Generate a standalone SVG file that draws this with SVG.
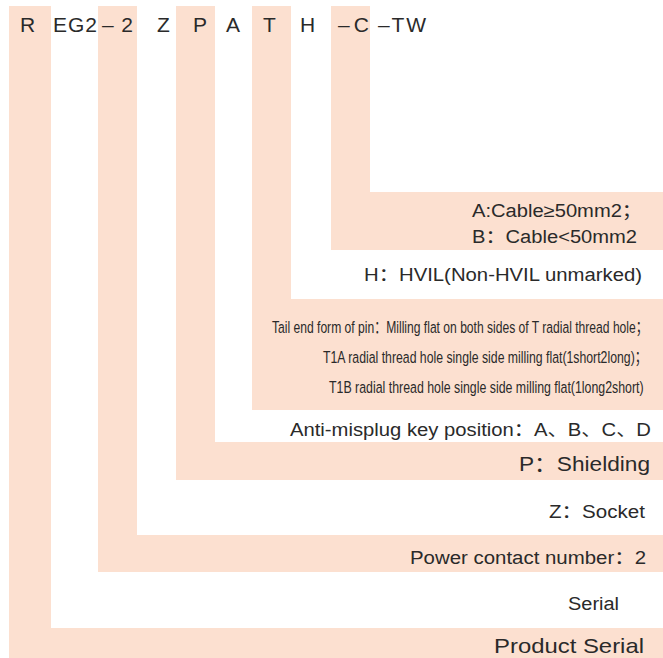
<svg xmlns="http://www.w3.org/2000/svg" width="663" height="658" viewBox="0 0 663 658">
<style>
.band{fill:#FCE0D0;stroke:none}
text{font-family:"Liberation Sans","Noto Sans CJK SC",sans-serif;fill:#2a2a2a}
.hd{font-size:21px}
.lb{font-size:18px}
.sm{font-size:17px}
.lg{font-size:21px}
</style>
<rect x="0" y="0" width="663" height="658" fill="#ffffff"/>
<g id="seg-R">
<path class="band" d="M9,6 H51 V628 H663 V658 H9 Z"/>
<text class="hd" x="20" y="32">R</text>
<text class="lb" x="568" y="610" textLength="51" lengthAdjust="spacingAndGlyphs">Serial</text>
<text class="lg" x="494" y="653" textLength="150" lengthAdjust="spacingAndGlyphs">Product Serial</text>
</g>
<g id="seg-EG2">
<text class="hd" x="53" y="32" textLength="44" lengthAdjust="spacing">EG2</text>
</g>
<g id="seg-2">
<path class="band" d="M98,6 H137 V535 H663 V572 H98 Z"/>
<text class="hd" x="102" y="32" textLength="31" lengthAdjust="spacing">–2</text>
<text class="lb" x="410" y="564" textLength="236" lengthAdjust="spacingAndGlyphs">Power contact number：2</text>
</g>
<g id="seg-Z">
<text class="hd" x="157" y="32">Z</text>
<text class="lb" x="549" y="518" textLength="96" lengthAdjust="spacingAndGlyphs">Z：Socket</text>
</g>
<g id="seg-P">
<path class="band" d="M176,6 H215 V442 H663 V480 H176 Z"/>
<text class="hd" x="193" y="32">P</text>
<text class="lg" x="519" y="471" textLength="131" lengthAdjust="spacingAndGlyphs">P：Shielding</text>
</g>
<g id="seg-A">
<text class="hd" x="226" y="32">A</text>
<text class="lb" x="290" y="436" textLength="361" lengthAdjust="spacingAndGlyphs">Anti-misplug key position：A、B、C、D</text>
</g>
<g id="seg-T">
<path class="band" d="M252,6 H291 V299 H663 V410 H252 Z"/>
<text class="hd" x="263" y="32">T</text>
<text class="sm" transform="translate(272,333) scale(0.72,1)" x="0" y="0" textLength="522" lengthAdjust="spacingAndGlyphs">Tail end form of pin：Milling flat on both sides of T radial thread hole；</text>
<text class="sm" transform="translate(323,363) scale(0.72,1)" x="0" y="0" textLength="450" lengthAdjust="spacingAndGlyphs">T1A radial thread hole single side milling flat(1short2long)；</text>
<text class="sm" transform="translate(329,393) scale(0.72,1)" x="0" y="0" textLength="437" lengthAdjust="spacingAndGlyphs">T1B radial thread hole single side milling flat(1long2short)</text>
</g>
<g id="seg-H">
<text class="hd" x="300" y="32">H</text>
<text class="lb" x="364" y="281" textLength="278" lengthAdjust="spacingAndGlyphs">H：HVIL(Non-HVIL unmarked)</text>
</g>
<g id="seg-C">
<path class="band" d="M331,6 H370 V192 H663 V250 H331 Z"/>
<text class="hd" x="338" y="32" textLength="31" lengthAdjust="spacing">–C</text>
<text class="lb" x="472" y="217" textLength="170" lengthAdjust="spacingAndGlyphs">A:Cable≥50mm2；</text>
<text class="lb" x="472" y="243" textLength="165" lengthAdjust="spacingAndGlyphs">B：Cable&lt;50mm2</text>
</g>
<g id="seg-TW">
<text class="hd" x="378" y="32" textLength="48" lengthAdjust="spacing">–TW</text>
</g>
<g id="connectors"></g>
</svg>
